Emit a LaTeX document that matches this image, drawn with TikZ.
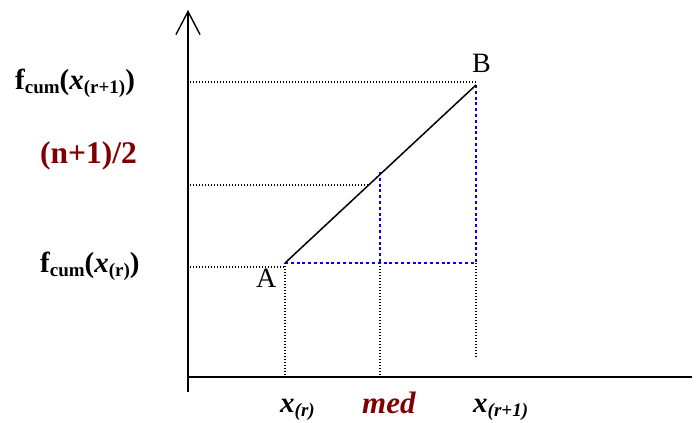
\documentclass[tikz,border=0pt]{standalone}
\usepackage{fontspec}
\setmainfont{Liberation Serif}
\usepackage{xcolor}
\usetikzlibrary{arrows.meta, positioning}
\definecolor{darkred}{RGB}{128,0,0}
\newcommand{\lowsub}[1]{\raisebox{-0.35ex}{\fontsize{19}{19}\selectfont #1}}

\begin{document}
\begin{tikzpicture}[x=1pt, y=-1pt,
    axis/.style={line width=1.4pt},
    guide/.style={dash pattern=on 1.2pt off 1.8pt, line width=1.2pt},
    blueguide/.style={dash pattern=on 3pt off 2.8pt, line width=2.8pt, draw=blue},
    lbl/.style={inner sep=0pt, anchor=base west, font=\fontsize{29}{34}\selectfont}]
    \useasboundingbox (0,0) rectangle (699,423);
    % axes
    \coordinate (top) at (188,10);
    \coordinate (bot) at (188,392);
    \coordinate (O) at (188,377);
    \coordinate (end) at (692,377);
    % points
    \coordinate (A) at (285,263);
    \coordinate (B) at (476,85);
    \coordinate (M) at (380,172);
    \coordinate (Mh) at (369,185);
    \coordinate (Ar) at (476,263);
    \coordinate (Am) at (380,263);
    % guide ends
    \coordinate (yB) at (190,82);
    \coordinate (xB) at (476,82);
    \coordinate (yM) at (190,185);
    \coordinate (yA) at (190,267);
    \coordinate (xA) at (285,267);
    \coordinate (bA) at (285,377);
    \coordinate (bM) at (380,375);
    \coordinate (bB) at (476,358);

    \node[lbl] (fr1) at (15,89) {\textbf{f\lowsub{cum}(\textit{x}\lowsub{(r+1)})}};
    \node[lbl, text=darkred, font=\fontsize{31.5}{36}\selectfont] (half) at (40,163) {\textbf{(n+1)/2}};
    \node[lbl] (fr) at (40,272) {\textbf{f\lowsub{cum}(\textit{x}\lowsub{(r)})}};
    \node[lbl] (xr) at (280,412) {\textbf{\textit{x}\lowsub{\textit{(r)}}}};
    \node[lbl, text=darkred, font=\fontsize{31}{36}\selectfont] (med) at (362,413) {\textbf{\textit{med}}};
    \node[lbl] (xr1) at (473,412) {\textbf{\textit{x}\lowsub{\textit{(r+1)}}}};
    \node[lbl, font=\fontsize{28}{34}\selectfont] (labA) at (256,287) {A};
    \node[lbl, font=\fontsize{28}{34}\selectfont] (labB) at (472,72) {B};

    \draw[axis, -{Straight Barb[length=23pt, width=24pt]}] (bot) -- (top);
    \draw[axis] (O) -- (end);

    \path[guide]
      (yB) edge (xB)
      (yM) edge (Mh)
      (yA) edge (xA)
      (A) edge (bA)
      (Am) edge (bM)
      (Ar) edge (bB);

    \path[blueguide]
      (A) edge (Ar)
      (M) edge (Am)
      (B) edge (Ar);

    \draw[line width=1.5pt] (A) -- (B);
\end{tikzpicture}
\end{document}
